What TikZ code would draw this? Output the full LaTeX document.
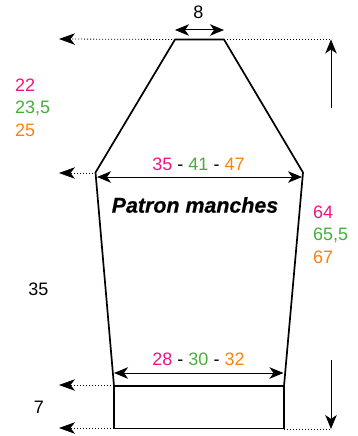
\documentclass[tikz,border=0pt]{standalone}
\usepackage{fontspec}
\setmainfont{Liberation Sans}
\newfontfamily\titlefont{Liberation Sans}[BoldItalicFeatures={FakeBold=0.6}]
\usetikzlibrary{arrows.meta}
\definecolor{cpink}{RGB}{240,20,130}
\definecolor{cgreen}{RGB}{70,175,60}
\definecolor{corange}{RGB}{250,130,15}
\tikzset{
  x=1pt,y=-1pt,
  outline/.style={draw=black,line width=1.7pt,line join=miter},
  dimline/.style={draw=black,line width=1pt,{Stealth[length=14pt,width=11.5pt,inset=4pt]}-{Stealth[length=14pt,width=11.5pt,inset=4pt]}},
  oneway/.style={draw=black,line width=1pt,-{Stealth[length=14pt,width=11.5pt,inset=4pt]}},
  guide/.style={draw=black,line width=0.8pt,dash pattern=on 1pt off 2pt,-{Stealth[length=16pt,width=11.5pt,inset=4.5pt]}},
  plainguide/.style={draw=black,line width=0.8pt,dash pattern=on 1pt off 2pt},
  lab/.style={inner sep=0pt,font=\fontsize{18}{20}\selectfont,anchor=center},
  leftlab/.style={lab,anchor=west},
  title/.style={inner sep=0pt,font=\titlefont\fontsize{21.4}{24}\selectfont\bfseries\itshape}
}
\begin{document}
\begin{tikzpicture}
\useasboundingbox (0,0) rectangle (358,436);
% outline points
\coordinate (tl) at (175,39.5);
\coordinate (tr) at (224,39.5);
\coordinate (sl) at (95.5,172.5);
\coordinate (sr) at (303,172.5);
\coordinate (cl) at (114,386);
\coordinate (cr) at (284,386);
\coordinate (bl) at (114,428.5);
\coordinate (br) at (284,428.5);
\draw[outline] (tl) -- (tr) -- (sr) -- (cr) -- (cl) -- (sl) -- cycle;
\draw[outline] (cl) -- (bl) -- (br) -- (cr);
% horizontal dimension arrows
\coordinate (wa) at (175,30);
\coordinate (wb) at (224,30);
\coordinate (ma) at (97,177);
\coordinate (mb) at (302,177);
\coordinate (ca) at (114,373);
\coordinate (cb) at (283.5,373);
\draw[dimline] (wa) -- (wb);
\draw[dimline] (ma) -- (mb);
\draw[dimline] (ca) -- (cb);
% guides to the left
\coordinate (g1) at (59,39);
\coordinate (g2) at (59,173);
\coordinate (g3) at (59,385);
\coordinate (g4) at (59,428);
\draw[guide] (tl) -- (g1);
\draw[guide] (sl |- g2) -- (g2);
\draw[guide] (cl |- g3) -- (g3);
\draw[guide] (bl |- g4) -- (g4);
% guides and arrows to the right
\coordinate (rt) at (332,39.5);
\coordinate (rts) at (331,108);
\coordinate (rtt) at (331,39.5);
\coordinate (rb) at (332,429);
\coordinate (rbs) at (331,360);
\coordinate (rbt) at (331,429);
\draw[plainguide] (tr) -- (rt);
\draw[plainguide] (br |- rb) -- (rb);
\draw[oneway] (rts) -- (rtt);
\draw[oneway] (rbs) -- (rbt);
% labels
\node[lab] (l8) at (198.5,12.5) {8};
\node[leftlab,text=cpink] (la1) at (15,85.5) {22};
\node[leftlab,text=cgreen] (la2) at (15,108) {23,5};
\node[leftlab,text=corange] (la3) at (15,130) {25};
\node[lab] (lw) at (198.5,164) {\textcolor{cpink}{35} - \textcolor{cgreen}{41} - \textcolor{corange}{47}};
\node[title] (lt) at (195,205) {Patron manches};
\node[leftlab,text=cpink] (lr1) at (313,212.5) {64};
\node[leftlab,text=cgreen] (lr2) at (313,235) {65,5};
\node[leftlab,text=corange] (lr3) at (313,257) {67};
\node[lab] (l35) at (38.5,289.5) {35};
\node[lab] (lc) at (198.5,359) {\textcolor{cpink}{28} - \textcolor{cgreen}{30} - \textcolor{corange}{32}};
\node[lab] (l7) at (39,407) {7};
\end{tikzpicture}
\end{document}
